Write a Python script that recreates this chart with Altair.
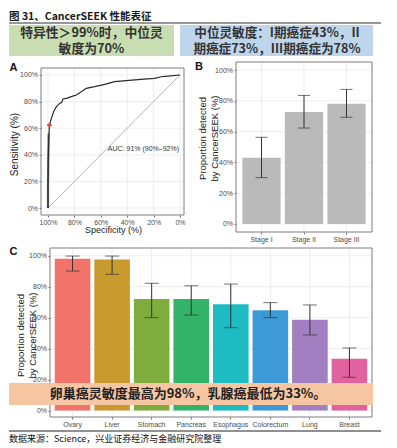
import altair as alt
import pandas as pd

CJK = "Noto Sans CJK SC"
LAT = "Liberation Sans"

TITLE = "图 31、CancerSEEK 性能表征"
GREEN_TEXT = ["特异性＞99%时，中位灵", "敏度为70%"]
BLUE_TEXT = ["中位灵敏度：I期癌症43%，II", "期癌症73%，III期癌症为78%"]
CALLOUT_TEXT = "卵巢癌灵敏度最高为98%，乳腺癌最低为33%。"
SOURCE_TEXT = "数据来源：Science，兴业证券经济与金融研究院整理"
LETTERS = ["A", "B", "C"]
AUC_LABEL = "AUC: 91% (90%–92%)"
Y_TITLE_BC = ["Proportion detected", "by CancerSEEK (%)"]

PCT_TICKS = [0, 20, 40, 60, 80, 100]

# Panel A: ROC curve (specificity %, sensitivity %)
ROC_SPEC = [100, 100, 99.8, 99.5, 99.2, 98.9, 97.5, 95.5, 93.7, 91.2, 89.5, 88.7, 86.0,
            82.4, 78.6, 74.8, 71.0, 64.7, 57.0, 49.6, 40.8, 29.5, 19.4, 14.4, 9.3, 0]
ROC_SENS = [0, 15, 35, 50, 57, 62.3, 67, 73, 76, 78.6, 79.5, 82, 82.4,
            83.7, 85, 87.4, 90, 91.2, 93, 95, 95.7, 96.7, 97.5, 98.7, 99.2, 100]
STEEP_SPEC = [100, 100, 99.8, 99.5]
STEEP_SENS = [0, 15, 35, 56]
DIAG_SPEC = [100, 0]
DIAG_SENS = [0, 100]
CUT_SPEC = [98.9]
CUT_SENS = [62.3]
AUC_POS = [27.7, 44.4]

# Panel B: by stage
STAGES = ["Stage I", "Stage II", "Stage III"]
STAGE_VAL = [43.1, 72.7, 78.1]
STAGE_LO = [30.1, 62.3, 69.3]
STAGE_HI = [56.3, 83.5, 87.4]

# Panel C: by cancer type
CANCERS = ["Ovary", "Liver", "Stomach", "Pancreas", "Esophagus", "Colorectum", "Lung", "Breast"]
CANCER_VAL = [98, 97.6, 72, 72, 68.6, 64.7, 58.7, 33.5]
CANCER_LO = [90.1, 88, 60, 61.7, 53.5, 60, 48.8, 21.5]
CANCER_HI = [99.8, 99.8, 82.2, 80.6, 81.7, 69.7, 68.2, 40.4]
CANCER_COLORS = ["#f1736a", "#c99a2e", "#7fad3d", "#33b26a", "#1dbcc2", "#3e9ad6", "#a27fc0", "#e2629f"]

H = 436
W = 372
GRID = "#e6e6e6"
FRAME = "#7d7d7d"
ERR = "#333333"

ticks_df = pd.DataFrame({"t": PCT_TICKS})
one = pd.DataFrame({"k": [0]})
pct = "datum.value + '%'"


def pix_text(text, x, y, size, font=CJK, **kw):
    return alt.Chart(one).mark_text(fontSize=size, font=font, **kw).encode(
        x=alt.value(x), y=alt.value(y), text=alt.value(text))


def pix_rect(x, x2, y, y2, **kw):
    return alt.Chart(one).mark_rect(**kw).encode(
        x=alt.value(x), x2=alt.value(x2), y=alt.value(y), y2=alt.value(y2))


def pix_rule(x, x2, y, **kw):
    return alt.Chart(one).mark_rule(**kw).encode(
        x=alt.value(x), x2=alt.value(x2), y=alt.value(y))


# ---------------- header ----------------
header = [
    pix_text(TITLE, 0, 8.5, 10.5, align="left", baseline="middle", fontWeight="bold", color="#1a1a1a"),
    pix_rule(0, W, 15, color="#333333", strokeWidth=1),
    pix_rect(0, 165, 17, 48, color="#c8deb2"),
    pix_rect(171, 364, 17, 48, color="#bed5ec"),
    pix_text(GREEN_TEXT, 82.5, 25, 12.8, align="center", baseline="middle", lineHeight=15.5,
             fontWeight="bold", color="#333333"),
    pix_text(BLUE_TEXT, 268, 25, 12.6, align="center", baseline="middle", lineHeight=15.5,
             fontWeight="bold", color="#333333"),
]

# ---------------- panel A ----------------
XA = alt.Scale(domain=[-3.0, 105.3], range=[175, 32], nice=False, zero=False)
YA = alt.Scale(domain=[-5.26, 105.26], range=[207, 60], nice=False, zero=False)
AX_AX = alt.Axis(orient="bottom", offset=-(H - 207), values=PCT_TICKS, labelExpr=pct,
                 title="Specificity (%)", titleFontSize=9, titleX=104, titleY=14,
                 titleBaseline="middle", titleAlign="center")
AX_AY = alt.Axis(orient="left", offset=-32, values=PCT_TICKS, labelExpr=pct,
                 title="Sensitivity (%)", titleFontSize=10, titleX=-27, titleY=136,
                 titleAngle=270, titleBaseline="middle", titleAlign="center")


def xa(f):
    return alt.X(f, scale=XA, axis=AX_AX)


def ya(f):
    return alt.Y(f, scale=YA, axis=AX_AY)


roc_df = pd.DataFrame({"spec": ROC_SPEC, "sens": ROC_SENS, "i": list(range(len(ROC_SPEC)))})
steep_df = pd.DataFrame({"spec": STEEP_SPEC, "sens": STEEP_SENS, "i": list(range(len(STEEP_SPEC)))})
diag_df = pd.DataFrame({"spec": DIAG_SPEC, "sens": DIAG_SENS, "i": [0, 1]})
cut_df = pd.DataFrame({"spec": CUT_SPEC, "sens": CUT_SENS})
auc_df = pd.DataFrame({"spec": [AUC_POS[0]], "sens": [AUC_POS[1]], "lab": [AUC_LABEL]})

panel_a = alt.layer(
    alt.Chart(ticks_df).mark_rule(color=GRID, strokeWidth=0.7).encode(
        x=xa("t:Q"), y=alt.value(60), y2=alt.value(207)),
    alt.Chart(ticks_df).mark_rule(color=GRID, strokeWidth=0.7).encode(
        y=ya("t:Q"), x=alt.value(32), x2=alt.value(175)),
    alt.Chart(diag_df).mark_line(color="#a0a0a0", strokeWidth=0.8).encode(
        x=xa("spec:Q"), y=ya("sens:Q"), order="i:Q"),
    alt.Chart(steep_df).mark_line(color="#6e6e6e", strokeWidth=2.2).encode(
        x=xa("spec:Q"), y=ya("sens:Q"), order="i:Q"),
    alt.Chart(roc_df).mark_line(color="#2a2a2a", strokeWidth=1.2).encode(
        x=xa("spec:Q"), y=ya("sens:Q"), order="i:Q"),
    alt.Chart(cut_df).mark_point(shape="cross", filled=True, size=22, color="#e5443c", opacity=1).encode(
        x=xa("spec:Q"), y=ya("sens:Q")),
    alt.Chart(auc_df).mark_text(fontSize=7, font=LAT, color="#333333").encode(
        x=xa("spec:Q"), y=ya("sens:Q"), text="lab:N"),
)

# ---------------- panel B ----------------
XB = alt.Scale(domain=STAGES, range=[227, 363], paddingInner=0.1, paddingOuter=0.15)
YB = alt.Scale(domain=[-5.2, 105.2], range=[224, 54], nice=False, zero=False)
AX_BX = alt.Axis(orient="bottom", offset=-(H - 224), title=None, labelAngle=0, bandPosition=0.5)
AX_BY = alt.Axis(orient="left", offset=-227, values=PCT_TICKS, labelExpr=pct,
                 title=Y_TITLE_BC, titleFontSize=9.5, titleLineHeight=12, titleX=-34, titleY=130,
                 titleAngle=270, titleBaseline="middle", titleAlign="center")


def xb(f):
    return alt.X(f, scale=XB, axis=AX_BX, sort=STAGES)


def yb(f):
    return alt.Y(f, scale=YB, axis=AX_BY)


b_df = pd.DataFrame({"stage": STAGES, "val": STAGE_VAL, "lo": STAGE_LO, "hi": STAGE_HI})

panel_b = alt.layer(
    alt.Chart(ticks_df).mark_rule(color=GRID, strokeWidth=0.7).encode(
        y=yb("t:Q"), x=alt.value(227), x2=alt.value(363)),
    alt.Chart(b_df).mark_rule(color=GRID, strokeWidth=0.7).encode(
        x=xb("stage:N"), y=alt.value(54), y2=alt.value(224)),
    alt.Chart(b_df).mark_bar(color="#bababa").encode(x=xb("stage:N"), y=yb("val:Q")),
    alt.Chart(b_df).mark_rule(color=ERR, strokeWidth=1).encode(
        x=xb("stage:N"), y=yb("lo:Q"), y2="hi:Q"),
    alt.Chart(b_df).mark_tick(color=ERR, thickness=1, size=12).encode(x=xb("stage:N"), y=yb("lo:Q")),
    alt.Chart(b_df).mark_tick(color=ERR, thickness=1, size=12).encode(x=xb("stage:N"), y=yb("hi:Q")),
)

# ---------------- panel C ----------------
XC = alt.Scale(domain=CANCERS, range=[41, 363], paddingInner=0.1, paddingOuter=0.12)
YC = alt.Scale(domain=[-4.2, 105], range=[409, 240], nice=False, zero=False)
AX_CX = alt.Axis(orient="bottom", offset=-(H - 409), title=None, labelAngle=0, bandPosition=0.5)
AX_CY = alt.Axis(orient="left", offset=-41, values=PCT_TICKS, labelExpr=pct,
                 title=Y_TITLE_BC, titleFontSize=9.5, titleLineHeight=12, titleX=-29.5, titleY=327,
                 titleAngle=270, titleBaseline="middle", titleAlign="center")


def xc(f):
    return alt.X(f, scale=XC, axis=AX_CX, sort=CANCERS)


def yc(f):
    return alt.Y(f, scale=YC, axis=AX_CY)


c_df = pd.DataFrame({"cancer": CANCERS, "val": CANCER_VAL, "lo": CANCER_LO, "hi": CANCER_HI})

panel_c = alt.layer(
    alt.Chart(ticks_df).mark_rule(color=GRID, strokeWidth=0.7).encode(
        y=yc("t:Q"), x=alt.value(41), x2=alt.value(363)),
    alt.Chart(c_df).mark_rule(color=GRID, strokeWidth=0.7).encode(
        x=xc("cancer:N"), y=alt.value(240), y2=alt.value(409)),
    alt.Chart(c_df).mark_bar().encode(
        x=xc("cancer:N"), y=yc("val:Q"),
        color=alt.Color("cancer:N", scale=alt.Scale(domain=CANCERS, range=CANCER_COLORS), legend=None)),
    alt.Chart(c_df).mark_rule(color=ERR, strokeWidth=1).encode(
        x=xc("cancer:N"), y=yc("lo:Q"), y2="hi:Q"),
    alt.Chart(c_df).mark_tick(color=ERR, thickness=1, size=14).encode(x=xc("cancer:N"), y=yc("lo:Q")),
    alt.Chart(c_df).mark_tick(color=ERR, thickness=1, size=14).encode(x=xc("cancer:N"), y=yc("hi:Q")),
)

frames = [
    pix_rect(32, 175, 60, 207, fillOpacity=0, stroke=FRAME, strokeWidth=1),
    pix_rect(227, 363, 54, 224, fillOpacity=0, stroke=FRAME, strokeWidth=1),
    pix_rect(41, 363, 240, 409, fillOpacity=0, stroke=FRAME, strokeWidth=1),
    pix_text(LETTERS[0], 0.5, 60, 11, font=LAT, align="left", baseline="middle", fontWeight="bold", color="#111111"),
    pix_text(LETTERS[1], 186, 58.5, 11, font=LAT, align="left", baseline="middle", fontWeight="bold", color="#111111"),
    pix_text(LETTERS[2], 0.5, 244, 11, font=LAT, align="left", baseline="middle", fontWeight="bold", color="#111111"),
]

footer = [
    pix_rect(0, 364, 375, 397, color="#f6c6a2"),
    pix_text(CALLOUT_TEXT, 179, 386, 13, align="center", baseline="middle", fontWeight="bold", color="#222222"),
    pix_rule(0, W, 423, color="#222222", strokeWidth=1),
    pix_text(SOURCE_TEXT, 0, 430.5, 9, align="left", baseline="middle", color="#111111"),
]

chart = alt.layer(
    *header, panel_a, panel_b, panel_c, *frames, *footer
).resolve_scale(
    x="independent", y="independent"
).properties(
    width=W, height=H, padding=0
).configure_view(
    strokeWidth=0
).configure_axis(
    domain=False, grid=False, labelFont=LAT, titleFont=LAT, labelFontSize=7,
    labelColor="#4d4d4d", tickColor="#4d4d4d", tickSize=2, tickWidth=0.8,
    labelPadding=1.5, titleColor="#222222", titleFontWeight="normal"
)

chart.save("out.html", embed_options={"renderer": "svg", "actions": False})
